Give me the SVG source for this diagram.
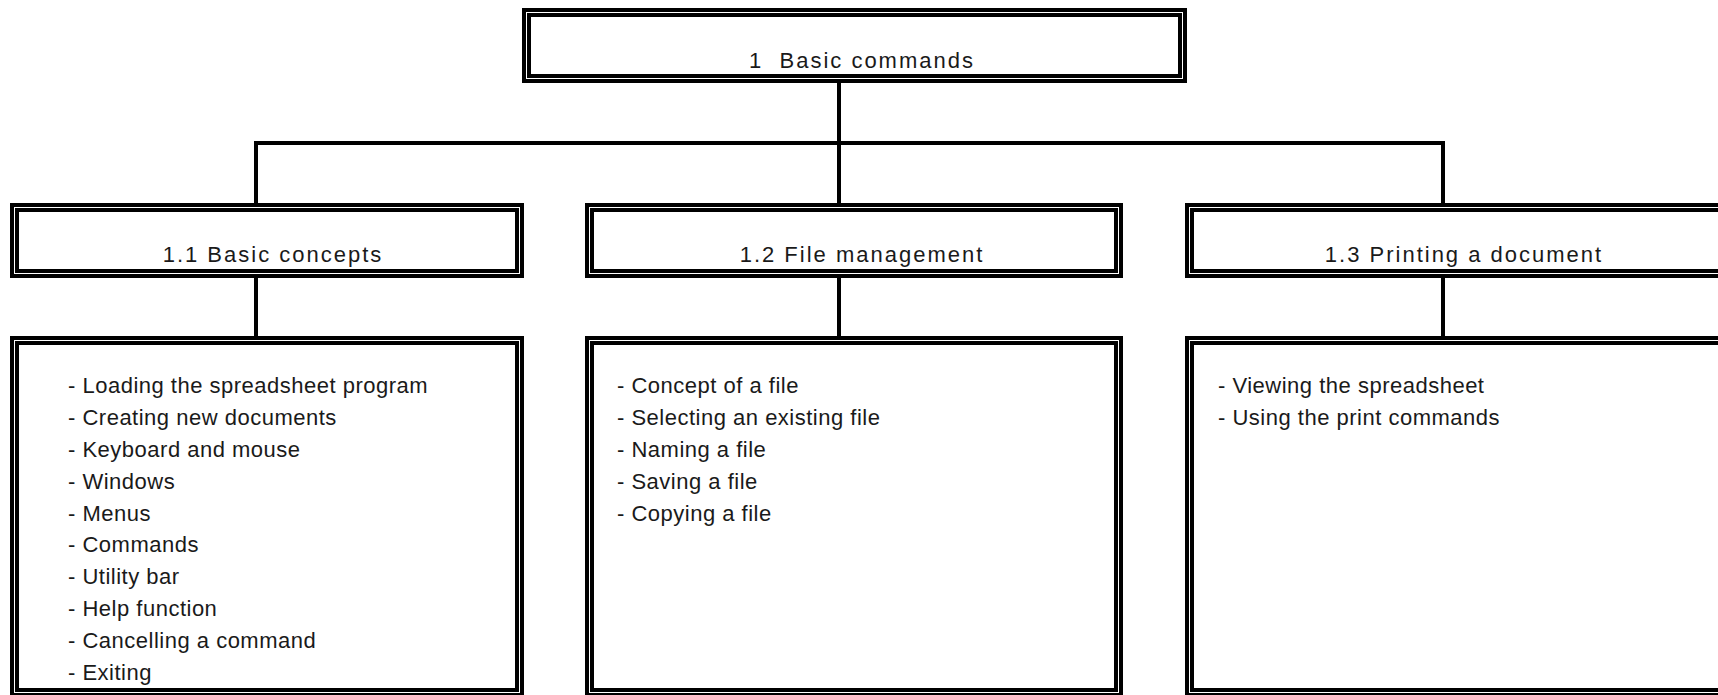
<svg xmlns="http://www.w3.org/2000/svg" width="1718" height="695" viewBox="0 0 1718 695">
<style>
.b{fill:none;stroke:#000;stroke-width:4}
.c{fill:none;stroke:#000;stroke-width:4}
.t{font-family:"Liberation Sans",Arial,sans-serif;font-size:22px;fill:#1a1a1a;letter-spacing:0.5px;white-space:pre}
.h{text-anchor:middle;letter-spacing:2px}
</style>
<rect width="1718" height="695" fill="#fff"/>
<g id="connectors">
<line class="c" x1="839" y1="80" x2="839" y2="205"/>
<line class="c" x1="254" y1="143" x2="1445" y2="143"/>
<line class="c" x1="256" y1="143" x2="256" y2="205"/>
<line class="c" x1="1443" y1="143" x2="1443" y2="205"/>
<line class="c" x1="256" y1="276" x2="256" y2="340"/>
<line class="c" x1="839" y1="276" x2="839" y2="340"/>
<line class="c" x1="1443" y1="276" x2="1443" y2="340"/>
</g>
<g id="n1">
<rect class="b" x="524" y="10" width="661" height="71"/>
<rect class="b" x="529" y="15" width="651" height="61"/>
<text class="t h" x="862" y="68" xml:space="preserve">1  Basic commands</text>
</g>
<g id="n11">
<rect class="b" x="12" y="205" width="510" height="71"/>
<rect class="b" x="17" y="210" width="500" height="61"/>
<text class="t h" x="273" y="262">1.1 Basic concepts</text>
</g>
<g id="n12">
<rect class="b" x="587" y="205" width="534" height="71"/>
<rect class="b" x="592" y="210" width="524" height="61"/>
<text class="t h" x="862" y="262">1.2 File management</text>
</g>
<g id="n13">
<rect class="b" x="1187" y="205" width="545" height="71"/>
<rect class="b" x="1192" y="210" width="535" height="61"/>
<text class="t h" x="1464" y="262">1.3 Printing a document</text>
</g>
<g id="n11list">
<rect class="b" x="12" y="338" width="510" height="357"/>
<rect class="b" x="17" y="343" width="500" height="347"/>
<text class="t" x="68" y="393">- Loading the spreadsheet program</text>
<text class="t" x="68" y="425">- Creating new documents</text>
<text class="t" x="68" y="457">- Keyboard and mouse</text>
<text class="t" x="68" y="489">- Windows</text>
<text class="t" x="68" y="521">- Menus</text>
<text class="t" x="68" y="552">- Commands</text>
<text class="t" x="68" y="584">- Utility bar</text>
<text class="t" x="68" y="616">- Help function</text>
<text class="t" x="68" y="648">- Cancelling a command</text>
<text class="t" x="68" y="680">- Exiting</text>
</g>
<g id="n12list">
<rect class="b" x="587" y="338" width="534" height="357"/>
<rect class="b" x="592" y="343" width="524" height="347"/>
<text class="t" x="617" y="393">- Concept of a file</text>
<text class="t" x="617" y="425">- Selecting an existing file</text>
<text class="t" x="617" y="457">- Naming a file</text>
<text class="t" x="617" y="489">- Saving a file</text>
<text class="t" x="617" y="521">- Copying a file</text>
</g>
<g id="n13list">
<rect class="b" x="1187" y="338" width="545" height="357"/>
<rect class="b" x="1192" y="343" width="535" height="347"/>
<text class="t" x="1218" y="393">- Viewing the spreadsheet</text>
<text class="t" x="1218" y="425">- Using the print commands</text>
</g>
</svg>
